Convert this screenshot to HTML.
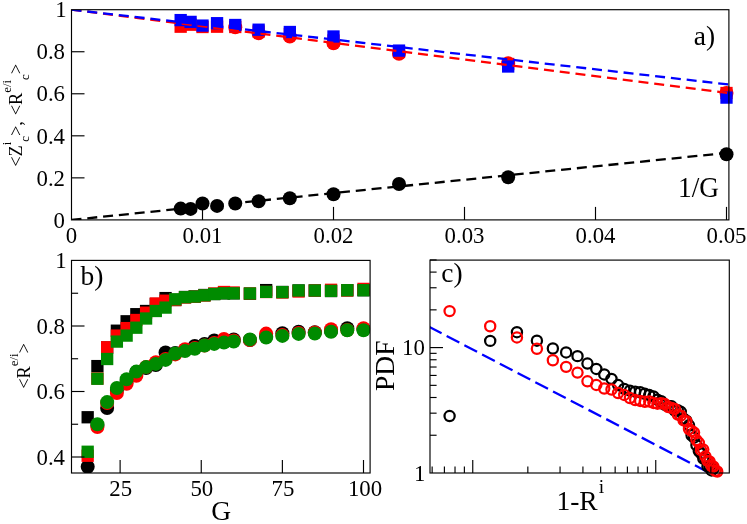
<!DOCTYPE html>
<html lang="en">
<head>
<meta charset="utf-8">
<title>Figure</title>
<style>
html,body{margin:0;padding:0;background:#ffffff;}
body{width:747px;height:524px;overflow:hidden;font-family:"Liberation Serif",serif;}
svg{display:block;will-change:transform;filter:blur(0.35px);}
</style>
</head>
<body>
<svg width="747" height="524" viewBox="0 0 747 524" font-family="Liberation Serif, serif">
<rect x="0" y="0" width="747" height="524" fill="#ffffff"/>
<clipPath id="ca"><rect x="71.5" y="9.7" width="657.4" height="210.2"/></clipPath>
<g id="panel-a">
<text transform="translate(71.5 242.5)" font-size="22.8" text-anchor="middle" fill="#000000">0</text>
<text transform="translate(202.5 242.5)" font-size="22.8" text-anchor="middle" fill="#000000">0.01</text>
<text transform="translate(333.5 242.5)" font-size="22.8" text-anchor="middle" fill="#000000">0.02</text>
<text transform="translate(464.5 242.5)" font-size="22.8" text-anchor="middle" fill="#000000">0.03</text>
<text transform="translate(595.5 242.5)" font-size="22.8" text-anchor="middle" fill="#000000">0.04</text>
<text transform="translate(726.5 242.5)" font-size="22.8" text-anchor="middle" fill="#000000">0.05</text>
<text transform="translate(65 227.6)" font-size="22.8" text-anchor="end" fill="#000000">0</text>
<text transform="translate(65 185.56)" font-size="22.8" text-anchor="end" fill="#000000">0.2</text>
<text transform="translate(65 143.52)" font-size="22.8" text-anchor="end" fill="#000000">0.4</text>
<text transform="translate(65 101.48)" font-size="22.8" text-anchor="end" fill="#000000">0.6</text>
<text transform="translate(65 59.44)" font-size="22.8" text-anchor="end" fill="#000000">0.8</text>
<text transform="translate(66.6 17.4)" font-size="22.8" text-anchor="end" fill="#000000">1</text>
<circle cx="180.67" cy="208.6" r="7" fill="#000000"/>
<circle cx="190.59" cy="208.9" r="7" fill="#000000"/>
<circle cx="202.5" cy="203.5" r="7" fill="#000000"/>
<circle cx="217.06" cy="205.9" r="7" fill="#000000"/>
<circle cx="235.25" cy="203.5" r="7" fill="#000000"/>
<circle cx="258.64" cy="201.2" r="7" fill="#000000"/>
<circle cx="289.83" cy="198.2" r="7" fill="#000000"/>
<circle cx="333.5" cy="194.2" r="7" fill="#000000"/>
<circle cx="399" cy="184" r="7" fill="#000000"/>
<circle cx="508.17" cy="177.2" r="7" fill="#000000"/>
<circle cx="726.5" cy="154.3" r="7" fill="#000000"/>
<circle cx="235.25" cy="27.3" r="7" fill="#ff0000"/>
<circle cx="258.64" cy="33.3" r="7" fill="#ff0000"/>
<circle cx="289.83" cy="36.5" r="7" fill="#ff0000"/>
<circle cx="333.5" cy="43.3" r="7" fill="#ff0000"/>
<circle cx="399" cy="53.7" r="7" fill="#ff0000"/>
<circle cx="508.17" cy="63.3" r="7" fill="#ff0000"/>
<circle cx="726.5" cy="92.9" r="7" fill="#ff0000"/>
<rect x="174.52" y="20.55" width="12.3" height="12.3" fill="#ff0000"/>
<rect x="184.44" y="18.55" width="12.3" height="12.3" fill="#ff0000"/>
<rect x="196.35" y="20.85" width="12.3" height="12.3" fill="#ff0000"/>
<rect x="210.91" y="20.55" width="12.3" height="12.3" fill="#ff0000"/>
<rect x="229.1" y="20.85" width="12.3" height="12.3" fill="#ff0000"/>
<rect x="252.49" y="25.35" width="12.3" height="12.3" fill="#ff0000"/>
<rect x="283.68" y="27.85" width="12.3" height="12.3" fill="#ff0000"/>
<rect x="327.35" y="34.35" width="12.3" height="12.3" fill="#ff0000"/>
<rect x="392.85" y="45.85" width="12.3" height="12.3" fill="#ff0000"/>
<rect x="502.02" y="57.85" width="12.3" height="12.3" fill="#ff0000"/>
<rect x="720.35" y="86.85" width="12.3" height="12.3" fill="#ff0000"/>
<rect x="174.52" y="13.95" width="12.3" height="12.3" fill="#0000ff"/>
<rect x="184.44" y="15.75" width="12.3" height="12.3" fill="#0000ff"/>
<rect x="196.35" y="19.45" width="12.3" height="12.3" fill="#0000ff"/>
<rect x="210.91" y="17.05" width="12.3" height="12.3" fill="#0000ff"/>
<rect x="229.1" y="18.85" width="12.3" height="12.3" fill="#0000ff"/>
<rect x="252.49" y="23.55" width="12.3" height="12.3" fill="#0000ff"/>
<rect x="283.68" y="25.85" width="12.3" height="12.3" fill="#0000ff"/>
<rect x="327.35" y="30.35" width="12.3" height="12.3" fill="#0000ff"/>
<rect x="392.85" y="44.45" width="12.3" height="12.3" fill="#0000ff"/>
<rect x="502.02" y="60.35" width="12.3" height="12.3" fill="#0000ff"/>
<rect x="720.35" y="91.45" width="12.3" height="12.3" fill="#0000ff"/>
<g clip-path="url(#ca)">
<line x1="71.5" y1="219.9" x2="728.9" y2="152.7" stroke="#000000" stroke-width="2.3" stroke-dasharray="10 5.875" fill="none"/>
<line x1="71.5" y1="9.7" x2="728.9" y2="93" stroke="#ff0000" stroke-width="2.3" stroke-dasharray="10 5.875" fill="none"/>
<line x1="71.5" y1="9.7" x2="728.9" y2="84.5" stroke="#0000ff" stroke-width="2.3" stroke-dasharray="10 5.875" fill="none"/>
</g>
<line x1="202.5" y1="219.9" x2="202.5" y2="206.9" stroke="#000000" stroke-width="1.15"/>
<line x1="333.5" y1="219.9" x2="333.5" y2="206.9" stroke="#000000" stroke-width="1.15"/>
<line x1="464.5" y1="219.9" x2="464.5" y2="206.9" stroke="#000000" stroke-width="1.15"/>
<line x1="595.5" y1="219.9" x2="595.5" y2="206.9" stroke="#000000" stroke-width="1.15"/>
<line x1="726.5" y1="219.9" x2="726.5" y2="206.9" stroke="#000000" stroke-width="1.15"/>
<line x1="71.5" y1="177.86" x2="84.5" y2="177.86" stroke="#000000" stroke-width="1.15"/>
<line x1="71.5" y1="135.82" x2="84.5" y2="135.82" stroke="#000000" stroke-width="1.15"/>
<line x1="71.5" y1="93.78" x2="84.5" y2="93.78" stroke="#000000" stroke-width="1.15"/>
<line x1="71.5" y1="51.74" x2="84.5" y2="51.74" stroke="#000000" stroke-width="1.15"/>
<rect x="71.5" y="9.7" width="657.4" height="210.2" fill="none" stroke="#000000" stroke-width="1.15"/>
<text transform="translate(693.7 44.8)" font-size="27.5" text-anchor="start" fill="#000000">a)</text>
<text transform="translate(678.1 196.7) scale(0.96 1)" font-size="28.5" text-anchor="start" fill="#000000">1/G</text>
<text transform="translate(22.2 166.8) rotate(-90) scale(0.95 1)" font-size="19.3">&lt;Z<tspan font-size="13.5" dy="-11.6">i</tspan><tspan font-size="13.5" dy="18.7">c</tspan><tspan dy="-7.1">&gt;,</tspan><tspan dx="1.3"> &lt;R</tspan><tspan font-size="13.5" dy="-11.6">e/i</tspan><tspan font-size="13.5" dy="18.7">c</tspan><tspan dy="-7.1">&gt;</tspan></text>
</g>
<clipPath id="cb"><rect x="71.5" y="260.4" width="298.6" height="212.6"/></clipPath>
<g id="panel-b">
<text transform="translate(120.72 496)" font-size="22.8" text-anchor="middle" fill="#000000">25</text>
<text transform="translate(201.85 496)" font-size="22.8" text-anchor="middle" fill="#000000">50</text>
<text transform="translate(282.98 496)" font-size="22.8" text-anchor="middle" fill="#000000">75</text>
<text transform="translate(365 496)" font-size="22.8" text-anchor="middle" fill="#000000">100</text>
<text transform="translate(65 464.7)" font-size="22.8" text-anchor="end" fill="#000000">0.4</text>
<text transform="translate(65 399.2)" font-size="22.8" text-anchor="end" fill="#000000">0.6</text>
<text transform="translate(65 333.7)" font-size="22.8" text-anchor="end" fill="#000000">0.8</text>
<text transform="translate(66.6 268.2)" font-size="22.8" text-anchor="end" fill="#000000">1</text>
<g clip-path="url(#cb)">
<rect x="81.53" y="411.1" width="12.3" height="12.3" fill="#000000"/>
<rect x="91.26" y="359.95" width="12.3" height="12.3" fill="#000000"/>
<rect x="101" y="341.35" width="12.3" height="12.3" fill="#000000"/>
<rect x="110.73" y="324.55" width="12.3" height="12.3" fill="#000000"/>
<rect x="120.47" y="315.15" width="12.3" height="12.3" fill="#000000"/>
<rect x="130.2" y="308.05" width="12.3" height="12.3" fill="#000000"/>
<rect x="139.94" y="304.85" width="12.3" height="12.3" fill="#000000"/>
<rect x="149.67" y="297.85" width="12.3" height="12.3" fill="#000000"/>
<rect x="159.41" y="291.95" width="12.3" height="12.3" fill="#000000"/>
<rect x="169.14" y="293.85" width="12.3" height="12.3" fill="#000000"/>
<rect x="178.88" y="290.85" width="12.3" height="12.3" fill="#000000"/>
<rect x="188.61" y="290.35" width="12.3" height="12.3" fill="#000000"/>
<rect x="198.34" y="288.85" width="12.3" height="12.3" fill="#000000"/>
<rect x="208.08" y="287.85" width="12.3" height="12.3" fill="#000000"/>
<rect x="217.82" y="287.15" width="12.3" height="12.3" fill="#000000"/>
<rect x="227.55" y="287.15" width="12.3" height="12.3" fill="#000000"/>
<rect x="243.78" y="287.65" width="12.3" height="12.3" fill="#000000"/>
<rect x="260" y="283.95" width="12.3" height="12.3" fill="#000000"/>
<rect x="276.23" y="285.85" width="12.3" height="12.3" fill="#000000"/>
<rect x="292.45" y="284.35" width="12.3" height="12.3" fill="#000000"/>
<rect x="308.68" y="284.35" width="12.3" height="12.3" fill="#000000"/>
<rect x="324.9" y="284.85" width="12.3" height="12.3" fill="#000000"/>
<rect x="341.12" y="284.05" width="12.3" height="12.3" fill="#000000"/>
<rect x="357.35" y="284.05" width="12.3" height="12.3" fill="#000000"/>
<circle cx="87.68" cy="466.75" r="7" fill="#000000"/>
<circle cx="97.41" cy="425.5" r="7" fill="#000000"/>
<circle cx="107.15" cy="408" r="7" fill="#000000"/>
<circle cx="116.88" cy="390" r="7" fill="#000000"/>
<circle cx="126.62" cy="381" r="7" fill="#000000"/>
<circle cx="136.35" cy="372" r="7" fill="#000000"/>
<circle cx="146.09" cy="368" r="7" fill="#000000"/>
<circle cx="155.82" cy="365" r="7" fill="#000000"/>
<circle cx="165.56" cy="352.5" r="7" fill="#000000"/>
<circle cx="175.29" cy="353" r="7" fill="#000000"/>
<circle cx="185.03" cy="350" r="7" fill="#000000"/>
<circle cx="194.76" cy="346" r="7" fill="#000000"/>
<circle cx="204.5" cy="344" r="7" fill="#000000"/>
<circle cx="214.23" cy="340.5" r="7" fill="#000000"/>
<circle cx="223.97" cy="341.5" r="7" fill="#000000"/>
<circle cx="233.7" cy="339.4" r="7" fill="#000000"/>
<circle cx="249.93" cy="340" r="7" fill="#000000"/>
<circle cx="266.15" cy="336.5" r="7" fill="#000000"/>
<circle cx="282.38" cy="333.3" r="7" fill="#000000"/>
<circle cx="298.6" cy="331.7" r="7" fill="#000000"/>
<circle cx="314.82" cy="332.2" r="7" fill="#000000"/>
<circle cx="331.05" cy="331" r="7" fill="#000000"/>
<circle cx="347.27" cy="328.2" r="7" fill="#000000"/>
<circle cx="363.5" cy="329.5" r="7" fill="#000000"/>
<rect x="81.53" y="449.6" width="12.3" height="12.3" fill="#ff0000"/>
<rect x="91.26" y="372.35" width="12.3" height="12.3" fill="#ff0000"/>
<rect x="101" y="341.15" width="12.3" height="12.3" fill="#ff0000"/>
<rect x="110.73" y="329.45" width="12.3" height="12.3" fill="#ff0000"/>
<rect x="120.47" y="321.95" width="12.3" height="12.3" fill="#ff0000"/>
<rect x="130.2" y="313.85" width="12.3" height="12.3" fill="#ff0000"/>
<rect x="139.94" y="306.55" width="12.3" height="12.3" fill="#ff0000"/>
<rect x="149.67" y="297.35" width="12.3" height="12.3" fill="#ff0000"/>
<rect x="159.41" y="294.55" width="12.3" height="12.3" fill="#ff0000"/>
<rect x="169.14" y="293.85" width="12.3" height="12.3" fill="#ff0000"/>
<rect x="178.88" y="291.35" width="12.3" height="12.3" fill="#ff0000"/>
<rect x="188.61" y="290.65" width="12.3" height="12.3" fill="#ff0000"/>
<rect x="198.34" y="289.35" width="12.3" height="12.3" fill="#ff0000"/>
<rect x="208.08" y="287.35" width="12.3" height="12.3" fill="#ff0000"/>
<rect x="217.82" y="285.85" width="12.3" height="12.3" fill="#ff0000"/>
<rect x="227.55" y="286.35" width="12.3" height="12.3" fill="#ff0000"/>
<rect x="243.78" y="287.35" width="12.3" height="12.3" fill="#ff0000"/>
<rect x="260" y="285.85" width="12.3" height="12.3" fill="#ff0000"/>
<rect x="276.23" y="286.35" width="12.3" height="12.3" fill="#ff0000"/>
<rect x="292.45" y="285.35" width="12.3" height="12.3" fill="#ff0000"/>
<rect x="308.68" y="284.35" width="12.3" height="12.3" fill="#ff0000"/>
<rect x="324.9" y="283.65" width="12.3" height="12.3" fill="#ff0000"/>
<rect x="341.12" y="284.35" width="12.3" height="12.3" fill="#ff0000"/>
<rect x="357.35" y="282.75" width="12.3" height="12.3" fill="#ff0000"/>
<circle cx="97.41" cy="427" r="7" fill="#ff0000"/>
<circle cx="107.15" cy="403" r="7" fill="#ff0000"/>
<circle cx="116.88" cy="393" r="7" fill="#ff0000"/>
<circle cx="126.62" cy="383.8" r="7" fill="#ff0000"/>
<circle cx="136.35" cy="375.8" r="7" fill="#ff0000"/>
<circle cx="146.09" cy="367" r="7" fill="#ff0000"/>
<circle cx="155.82" cy="362.2" r="7" fill="#ff0000"/>
<circle cx="165.56" cy="359" r="7" fill="#ff0000"/>
<circle cx="175.29" cy="354.4" r="7" fill="#ff0000"/>
<circle cx="185.03" cy="349.3" r="7" fill="#ff0000"/>
<circle cx="194.76" cy="348" r="7" fill="#ff0000"/>
<circle cx="204.5" cy="345.5" r="7" fill="#ff0000"/>
<circle cx="214.23" cy="343" r="7" fill="#ff0000"/>
<circle cx="223.97" cy="338.9" r="7" fill="#ff0000"/>
<circle cx="233.7" cy="340.5" r="7" fill="#ff0000"/>
<circle cx="249.93" cy="340" r="7" fill="#ff0000"/>
<circle cx="266.15" cy="333.6" r="7" fill="#ff0000"/>
<circle cx="282.38" cy="335" r="7" fill="#ff0000"/>
<circle cx="298.6" cy="333" r="7" fill="#ff0000"/>
<circle cx="314.82" cy="332.5" r="7" fill="#ff0000"/>
<circle cx="331.05" cy="329.3" r="7" fill="#ff0000"/>
<circle cx="347.27" cy="330" r="7" fill="#ff0000"/>
<circle cx="363.5" cy="328.2" r="7" fill="#ff0000"/>
<rect x="81.53" y="445.6" width="12.3" height="12.3" fill="#008b00"/>
<rect x="91.26" y="372.6" width="12.3" height="12.3" fill="#008b00"/>
<rect x="101" y="352.85" width="12.3" height="12.3" fill="#008b00"/>
<rect x="110.73" y="335.45" width="12.3" height="12.3" fill="#008b00"/>
<rect x="120.47" y="329.45" width="12.3" height="12.3" fill="#008b00"/>
<rect x="130.2" y="321.55" width="12.3" height="12.3" fill="#008b00"/>
<rect x="139.94" y="312.35" width="12.3" height="12.3" fill="#008b00"/>
<rect x="149.67" y="304.85" width="12.3" height="12.3" fill="#008b00"/>
<rect x="159.41" y="301.45" width="12.3" height="12.3" fill="#008b00"/>
<rect x="169.14" y="293.15" width="12.3" height="12.3" fill="#008b00"/>
<rect x="178.88" y="291.05" width="12.3" height="12.3" fill="#008b00"/>
<rect x="188.61" y="290.45" width="12.3" height="12.3" fill="#008b00"/>
<rect x="198.34" y="289.15" width="12.3" height="12.3" fill="#008b00"/>
<rect x="208.08" y="287.85" width="12.3" height="12.3" fill="#008b00"/>
<rect x="217.82" y="287.15" width="12.3" height="12.3" fill="#008b00"/>
<rect x="227.55" y="287.15" width="12.3" height="12.3" fill="#008b00"/>
<rect x="243.78" y="287.35" width="12.3" height="12.3" fill="#008b00"/>
<rect x="260" y="285.7" width="12.3" height="12.3" fill="#008b00"/>
<rect x="276.23" y="285.95" width="12.3" height="12.3" fill="#008b00"/>
<rect x="292.45" y="284.35" width="12.3" height="12.3" fill="#008b00"/>
<rect x="308.68" y="284.35" width="12.3" height="12.3" fill="#008b00"/>
<rect x="324.9" y="284.75" width="12.3" height="12.3" fill="#008b00"/>
<rect x="341.12" y="284.05" width="12.3" height="12.3" fill="#008b00"/>
<rect x="357.35" y="284.05" width="12.3" height="12.3" fill="#008b00"/>
<circle cx="97.41" cy="424.25" r="7" fill="#008b00"/>
<circle cx="107.15" cy="402.1" r="7" fill="#008b00"/>
<circle cx="116.88" cy="388" r="7" fill="#008b00"/>
<circle cx="126.62" cy="379.2" r="7" fill="#008b00"/>
<circle cx="136.35" cy="371.6" r="7" fill="#008b00"/>
<circle cx="146.09" cy="367.1" r="7" fill="#008b00"/>
<circle cx="155.82" cy="363.9" r="7" fill="#008b00"/>
<circle cx="165.56" cy="359.9" r="7" fill="#008b00"/>
<circle cx="175.29" cy="353.5" r="7" fill="#008b00"/>
<circle cx="185.03" cy="351.1" r="7" fill="#008b00"/>
<circle cx="194.76" cy="348.7" r="7" fill="#008b00"/>
<circle cx="204.5" cy="345.5" r="7" fill="#008b00"/>
<circle cx="214.23" cy="343.9" r="7" fill="#008b00"/>
<circle cx="223.97" cy="342.6" r="7" fill="#008b00"/>
<circle cx="233.7" cy="341.5" r="7" fill="#008b00"/>
<circle cx="249.93" cy="339.4" r="7" fill="#008b00"/>
<circle cx="266.15" cy="337.5" r="7" fill="#008b00"/>
<circle cx="282.38" cy="335.9" r="7" fill="#008b00"/>
<circle cx="298.6" cy="333.9" r="7" fill="#008b00"/>
<circle cx="314.82" cy="333.5" r="7" fill="#008b00"/>
<circle cx="331.05" cy="331.8" r="7" fill="#008b00"/>
<circle cx="347.27" cy="330.2" r="7" fill="#008b00"/>
<circle cx="363.5" cy="330.2" r="7" fill="#008b00"/>
</g>
<line x1="120.12" y1="473" x2="120.12" y2="460" stroke="#000000" stroke-width="1.15"/>
<line x1="201.25" y1="473" x2="201.25" y2="460" stroke="#000000" stroke-width="1.15"/>
<line x1="282.38" y1="473" x2="282.38" y2="460" stroke="#000000" stroke-width="1.15"/>
<line x1="363.5" y1="473" x2="363.5" y2="460" stroke="#000000" stroke-width="1.15"/>
<line x1="71.5" y1="457" x2="84.5" y2="457" stroke="#000000" stroke-width="1.15"/>
<line x1="71.5" y1="391.5" x2="84.5" y2="391.5" stroke="#000000" stroke-width="1.15"/>
<line x1="71.5" y1="326" x2="84.5" y2="326" stroke="#000000" stroke-width="1.15"/>
<line x1="71.5" y1="424.25" x2="78.1" y2="424.25" stroke="#000000" stroke-width="1.15"/>
<line x1="71.5" y1="358.75" x2="78.1" y2="358.75" stroke="#000000" stroke-width="1.15"/>
<line x1="71.5" y1="293.25" x2="78.1" y2="293.25" stroke="#000000" stroke-width="1.15"/>
<rect x="71.5" y="260.4" width="298.6" height="212.6" fill="none" stroke="#000000" stroke-width="1.15"/>
<text transform="translate(80.5 285.2)" font-size="27.5" text-anchor="start" fill="#000000">b)</text>
<text transform="translate(221.3 520.3)" font-size="27.5" text-anchor="middle" fill="#000000">G</text>
<text transform="translate(30.0 388.8) rotate(-90) scale(0.95 1)" font-size="19.3">&lt;R<tspan font-size="13.5" dy="-11.6">e/i</tspan><tspan dy="11.6">&gt;</tspan></text>
</g>
<clipPath id="cc"><rect x="430.0" y="260.1" width="299.3" height="212.9"/></clipPath>
<g id="panel-c">
<text transform="translate(424.9 355)" font-size="22.8" text-anchor="end" fill="#000000">10</text>
<text transform="translate(425.4 480.6)" font-size="22.8" text-anchor="end" fill="#000000">1</text>
<g clip-path="url(#cc)">
<line x1="428.9" y1="326.7" x2="707.5" y2="471.9" stroke="#0000ff" stroke-width="2.3" stroke-dasharray="14.3 5.7"/>
</g>
<circle cx="449.6" cy="416.06" r="5.1" fill="none" stroke="#000000" stroke-width="2.25"/>
<circle cx="490.2" cy="340.89" r="5.1" fill="none" stroke="#000000" stroke-width="2.25"/>
<circle cx="516.94" cy="332.15" r="5.1" fill="none" stroke="#000000" stroke-width="2.25"/>
<circle cx="536.91" cy="340.66" r="5.1" fill="none" stroke="#000000" stroke-width="2.25"/>
<circle cx="552.86" cy="348.48" r="5.1" fill="none" stroke="#000000" stroke-width="2.25"/>
<circle cx="566.14" cy="352.42" r="5.1" fill="none" stroke="#000000" stroke-width="2.25"/>
<circle cx="577.51" cy="356.14" r="5.1" fill="none" stroke="#000000" stroke-width="2.25"/>
<circle cx="587.46" cy="363.57" r="5.1" fill="none" stroke="#000000" stroke-width="2.25"/>
<circle cx="596.3" cy="368.92" r="5.1" fill="none" stroke="#000000" stroke-width="2.25"/>
<circle cx="604.25" cy="374.47" r="5.1" fill="none" stroke="#000000" stroke-width="2.25"/>
<circle cx="611.48" cy="378.87" r="5.1" fill="none" stroke="#000000" stroke-width="2.25"/>
<circle cx="618.11" cy="385.09" r="5.1" fill="none" stroke="#000000" stroke-width="2.25"/>
<circle cx="624.23" cy="388.87" r="5.1" fill="none" stroke="#000000" stroke-width="2.25"/>
<circle cx="629.91" cy="390.63" r="5.1" fill="none" stroke="#000000" stroke-width="2.25"/>
<circle cx="635.21" cy="391.71" r="5.1" fill="none" stroke="#000000" stroke-width="2.25"/>
<circle cx="640.17" cy="392.23" r="5.1" fill="none" stroke="#000000" stroke-width="2.25"/>
<circle cx="644.85" cy="393.84" r="5.1" fill="none" stroke="#000000" stroke-width="2.25"/>
<circle cx="649.27" cy="395.06" r="5.1" fill="none" stroke="#000000" stroke-width="2.25"/>
<circle cx="653.45" cy="396.41" r="5.1" fill="none" stroke="#000000" stroke-width="2.25"/>
<circle cx="657.43" cy="399.73" r="5.1" fill="none" stroke="#000000" stroke-width="2.25"/>
<circle cx="661.21" cy="401.26" r="5.1" fill="none" stroke="#000000" stroke-width="2.25"/>
<circle cx="664.82" cy="404.89" r="5.1" fill="none" stroke="#000000" stroke-width="2.25"/>
<circle cx="668.28" cy="405.99" r="5.1" fill="none" stroke="#000000" stroke-width="2.25"/>
<circle cx="671.59" cy="406.31" r="5.1" fill="none" stroke="#000000" stroke-width="2.25"/>
<circle cx="674.77" cy="410.51" r="5.1" fill="none" stroke="#000000" stroke-width="2.25"/>
<circle cx="677.83" cy="410.32" r="5.1" fill="none" stroke="#000000" stroke-width="2.25"/>
<circle cx="680.77" cy="411.8" r="5.1" fill="none" stroke="#000000" stroke-width="2.25"/>
<circle cx="683.61" cy="418.6" r="5.1" fill="none" stroke="#000000" stroke-width="2.25"/>
<circle cx="686.35" cy="420.64" r="5.1" fill="none" stroke="#000000" stroke-width="2.25"/>
<circle cx="689" cy="425.32" r="5.1" fill="none" stroke="#000000" stroke-width="2.25"/>
<circle cx="691.57" cy="435.23" r="5.1" fill="none" stroke="#000000" stroke-width="2.25"/>
<circle cx="694.05" cy="437.7" r="5.1" fill="none" stroke="#000000" stroke-width="2.25"/>
<circle cx="696.46" cy="445.16" r="5.1" fill="none" stroke="#000000" stroke-width="2.25"/>
<circle cx="698.8" cy="451.03" r="5.1" fill="none" stroke="#000000" stroke-width="2.25"/>
<circle cx="701.07" cy="453.39" r="5.1" fill="none" stroke="#000000" stroke-width="2.25"/>
<circle cx="703.27" cy="458.53" r="5.1" fill="none" stroke="#000000" stroke-width="2.25"/>
<circle cx="705.42" cy="459.27" r="5.1" fill="none" stroke="#000000" stroke-width="2.25"/>
<circle cx="707.51" cy="466.4" r="5.1" fill="none" stroke="#000000" stroke-width="2.25"/>
<circle cx="709.55" cy="466.62" r="5.1" fill="none" stroke="#000000" stroke-width="2.25"/>
<circle cx="711.54" cy="470.45" r="5.1" fill="none" stroke="#000000" stroke-width="2.25"/>
<circle cx="713.48" cy="468.84" r="5.1" fill="none" stroke="#000000" stroke-width="2.25"/>
<circle cx="449.6" cy="311.1" r="5.1" fill="none" stroke="#ff0000" stroke-width="2.25"/>
<circle cx="490.2" cy="326.26" r="5.1" fill="none" stroke="#ff0000" stroke-width="2.25"/>
<circle cx="516.94" cy="337.43" r="5.1" fill="none" stroke="#ff0000" stroke-width="2.25"/>
<circle cx="536.91" cy="348.75" r="5.1" fill="none" stroke="#ff0000" stroke-width="2.25"/>
<circle cx="552.86" cy="360.23" r="5.1" fill="none" stroke="#ff0000" stroke-width="2.25"/>
<circle cx="566.14" cy="366.87" r="5.1" fill="none" stroke="#ff0000" stroke-width="2.25"/>
<circle cx="577.51" cy="372.6" r="5.1" fill="none" stroke="#ff0000" stroke-width="2.25"/>
<circle cx="587.46" cy="381.29" r="5.1" fill="none" stroke="#ff0000" stroke-width="2.25"/>
<circle cx="596.3" cy="384.92" r="5.1" fill="none" stroke="#ff0000" stroke-width="2.25"/>
<circle cx="604.25" cy="388.48" r="5.1" fill="none" stroke="#ff0000" stroke-width="2.25"/>
<circle cx="611.48" cy="389.5" r="5.1" fill="none" stroke="#ff0000" stroke-width="2.25"/>
<circle cx="618.11" cy="393" r="5.1" fill="none" stroke="#ff0000" stroke-width="2.25"/>
<circle cx="624.23" cy="394.91" r="5.1" fill="none" stroke="#ff0000" stroke-width="2.25"/>
<circle cx="629.91" cy="398.07" r="5.1" fill="none" stroke="#ff0000" stroke-width="2.25"/>
<circle cx="635.21" cy="400.07" r="5.1" fill="none" stroke="#ff0000" stroke-width="2.25"/>
<circle cx="640.17" cy="400.96" r="5.1" fill="none" stroke="#ff0000" stroke-width="2.25"/>
<circle cx="644.85" cy="401.78" r="5.1" fill="none" stroke="#ff0000" stroke-width="2.25"/>
<circle cx="649.27" cy="401.46" r="5.1" fill="none" stroke="#ff0000" stroke-width="2.25"/>
<circle cx="653.45" cy="402.9" r="5.1" fill="none" stroke="#ff0000" stroke-width="2.25"/>
<circle cx="657.43" cy="403.67" r="5.1" fill="none" stroke="#ff0000" stroke-width="2.25"/>
<circle cx="661.21" cy="403.26" r="5.1" fill="none" stroke="#ff0000" stroke-width="2.25"/>
<circle cx="664.82" cy="404.09" r="5.1" fill="none" stroke="#ff0000" stroke-width="2.25"/>
<circle cx="668.28" cy="407.01" r="5.1" fill="none" stroke="#ff0000" stroke-width="2.25"/>
<circle cx="671.59" cy="407.89" r="5.1" fill="none" stroke="#ff0000" stroke-width="2.25"/>
<circle cx="674.77" cy="408.94" r="5.1" fill="none" stroke="#ff0000" stroke-width="2.25"/>
<circle cx="677.83" cy="414.61" r="5.1" fill="none" stroke="#ff0000" stroke-width="2.25"/>
<circle cx="680.77" cy="415.66" r="5.1" fill="none" stroke="#ff0000" stroke-width="2.25"/>
<circle cx="683.61" cy="420.46" r="5.1" fill="none" stroke="#ff0000" stroke-width="2.25"/>
<circle cx="686.35" cy="421.17" r="5.1" fill="none" stroke="#ff0000" stroke-width="2.25"/>
<circle cx="689" cy="429.01" r="5.1" fill="none" stroke="#ff0000" stroke-width="2.25"/>
<circle cx="691.57" cy="430.96" r="5.1" fill="none" stroke="#ff0000" stroke-width="2.25"/>
<circle cx="694.05" cy="432.57" r="5.1" fill="none" stroke="#ff0000" stroke-width="2.25"/>
<circle cx="696.46" cy="440.09" r="5.1" fill="none" stroke="#ff0000" stroke-width="2.25"/>
<circle cx="698.8" cy="442.81" r="5.1" fill="none" stroke="#ff0000" stroke-width="2.25"/>
<circle cx="701.07" cy="450.2" r="5.1" fill="none" stroke="#ff0000" stroke-width="2.25"/>
<circle cx="703.27" cy="449.56" r="5.1" fill="none" stroke="#ff0000" stroke-width="2.25"/>
<circle cx="705.42" cy="456.47" r="5.1" fill="none" stroke="#ff0000" stroke-width="2.25"/>
<circle cx="707.51" cy="460.88" r="5.1" fill="none" stroke="#ff0000" stroke-width="2.25"/>
<circle cx="709.55" cy="461.42" r="5.1" fill="none" stroke="#ff0000" stroke-width="2.25"/>
<circle cx="711.54" cy="466.06" r="5.1" fill="none" stroke="#ff0000" stroke-width="2.25"/>
<circle cx="713.48" cy="466.56" r="5.1" fill="none" stroke="#ff0000" stroke-width="2.25"/>
<circle cx="715.37" cy="470.78" r="5.1" fill="none" stroke="#ff0000" stroke-width="2.25"/>
<circle cx="717.22" cy="471.5" r="5.1" fill="none" stroke="#ff0000" stroke-width="2.25"/>
<line x1="430" y1="347.6" x2="443" y2="347.6" stroke="#000000" stroke-width="1.15"/>
<line x1="430" y1="435.25" x2="436.6" y2="435.25" stroke="#000000" stroke-width="1.15"/>
<line x1="430" y1="413.17" x2="436.6" y2="413.17" stroke="#000000" stroke-width="1.15"/>
<line x1="430" y1="397.5" x2="436.6" y2="397.5" stroke="#000000" stroke-width="1.15"/>
<line x1="430" y1="385.35" x2="436.6" y2="385.35" stroke="#000000" stroke-width="1.15"/>
<line x1="430" y1="375.42" x2="436.6" y2="375.42" stroke="#000000" stroke-width="1.15"/>
<line x1="430" y1="367.02" x2="436.6" y2="367.02" stroke="#000000" stroke-width="1.15"/>
<line x1="430" y1="359.75" x2="436.6" y2="359.75" stroke="#000000" stroke-width="1.15"/>
<line x1="430" y1="353.34" x2="436.6" y2="353.34" stroke="#000000" stroke-width="1.15"/>
<line x1="430" y1="309.85" x2="436.6" y2="309.85" stroke="#000000" stroke-width="1.15"/>
<line x1="430" y1="287.77" x2="436.6" y2="287.77" stroke="#000000" stroke-width="1.15"/>
<line x1="430" y1="272.1" x2="436.6" y2="272.1" stroke="#000000" stroke-width="1.15"/>
<line x1="430" y1="259.95" x2="436.6" y2="259.95" stroke="#000000" stroke-width="1.15"/>
<line x1="472.75" y1="473" x2="472.75" y2="460" stroke="#000000" stroke-width="1.15"/>
<line x1="655.75" y1="473" x2="655.75" y2="460" stroke="#000000" stroke-width="1.15"/>
<line x1="432.15" y1="473" x2="432.15" y2="466.4" stroke="#000000" stroke-width="1.15"/>
<line x1="444.4" y1="473" x2="444.4" y2="466.4" stroke="#000000" stroke-width="1.15"/>
<line x1="455.02" y1="473" x2="455.02" y2="466.4" stroke="#000000" stroke-width="1.15"/>
<line x1="464.38" y1="473" x2="464.38" y2="466.4" stroke="#000000" stroke-width="1.15"/>
<line x1="527.84" y1="473" x2="527.84" y2="466.4" stroke="#000000" stroke-width="1.15"/>
<line x1="560.06" y1="473" x2="560.06" y2="466.4" stroke="#000000" stroke-width="1.15"/>
<line x1="582.93" y1="473" x2="582.93" y2="466.4" stroke="#000000" stroke-width="1.15"/>
<line x1="600.66" y1="473" x2="600.66" y2="466.4" stroke="#000000" stroke-width="1.15"/>
<line x1="615.15" y1="473" x2="615.15" y2="466.4" stroke="#000000" stroke-width="1.15"/>
<line x1="627.4" y1="473" x2="627.4" y2="466.4" stroke="#000000" stroke-width="1.15"/>
<line x1="638.02" y1="473" x2="638.02" y2="466.4" stroke="#000000" stroke-width="1.15"/>
<line x1="647.38" y1="473" x2="647.38" y2="466.4" stroke="#000000" stroke-width="1.15"/>
<line x1="710.84" y1="473" x2="710.84" y2="466.4" stroke="#000000" stroke-width="1.15"/>
<rect x="430.0" y="260.1" width="299.3" height="212.9" fill="none" stroke="#000000" stroke-width="1.15"/>
<text transform="translate(441.2 282.4)" font-size="27.5" text-anchor="start" fill="#000000">c)</text>
<text transform="translate(394.2 391) rotate(-90)" font-size="27.5" text-anchor="start" fill="#000000">PDF</text>
<text transform="translate(556.4 510.0) scale(1.0 1)" font-size="27.5">1-R<tspan font-size="19.5" dy="-16.7" dx="1">i</tspan></text>
</g>
</svg>
</body>
</html>
